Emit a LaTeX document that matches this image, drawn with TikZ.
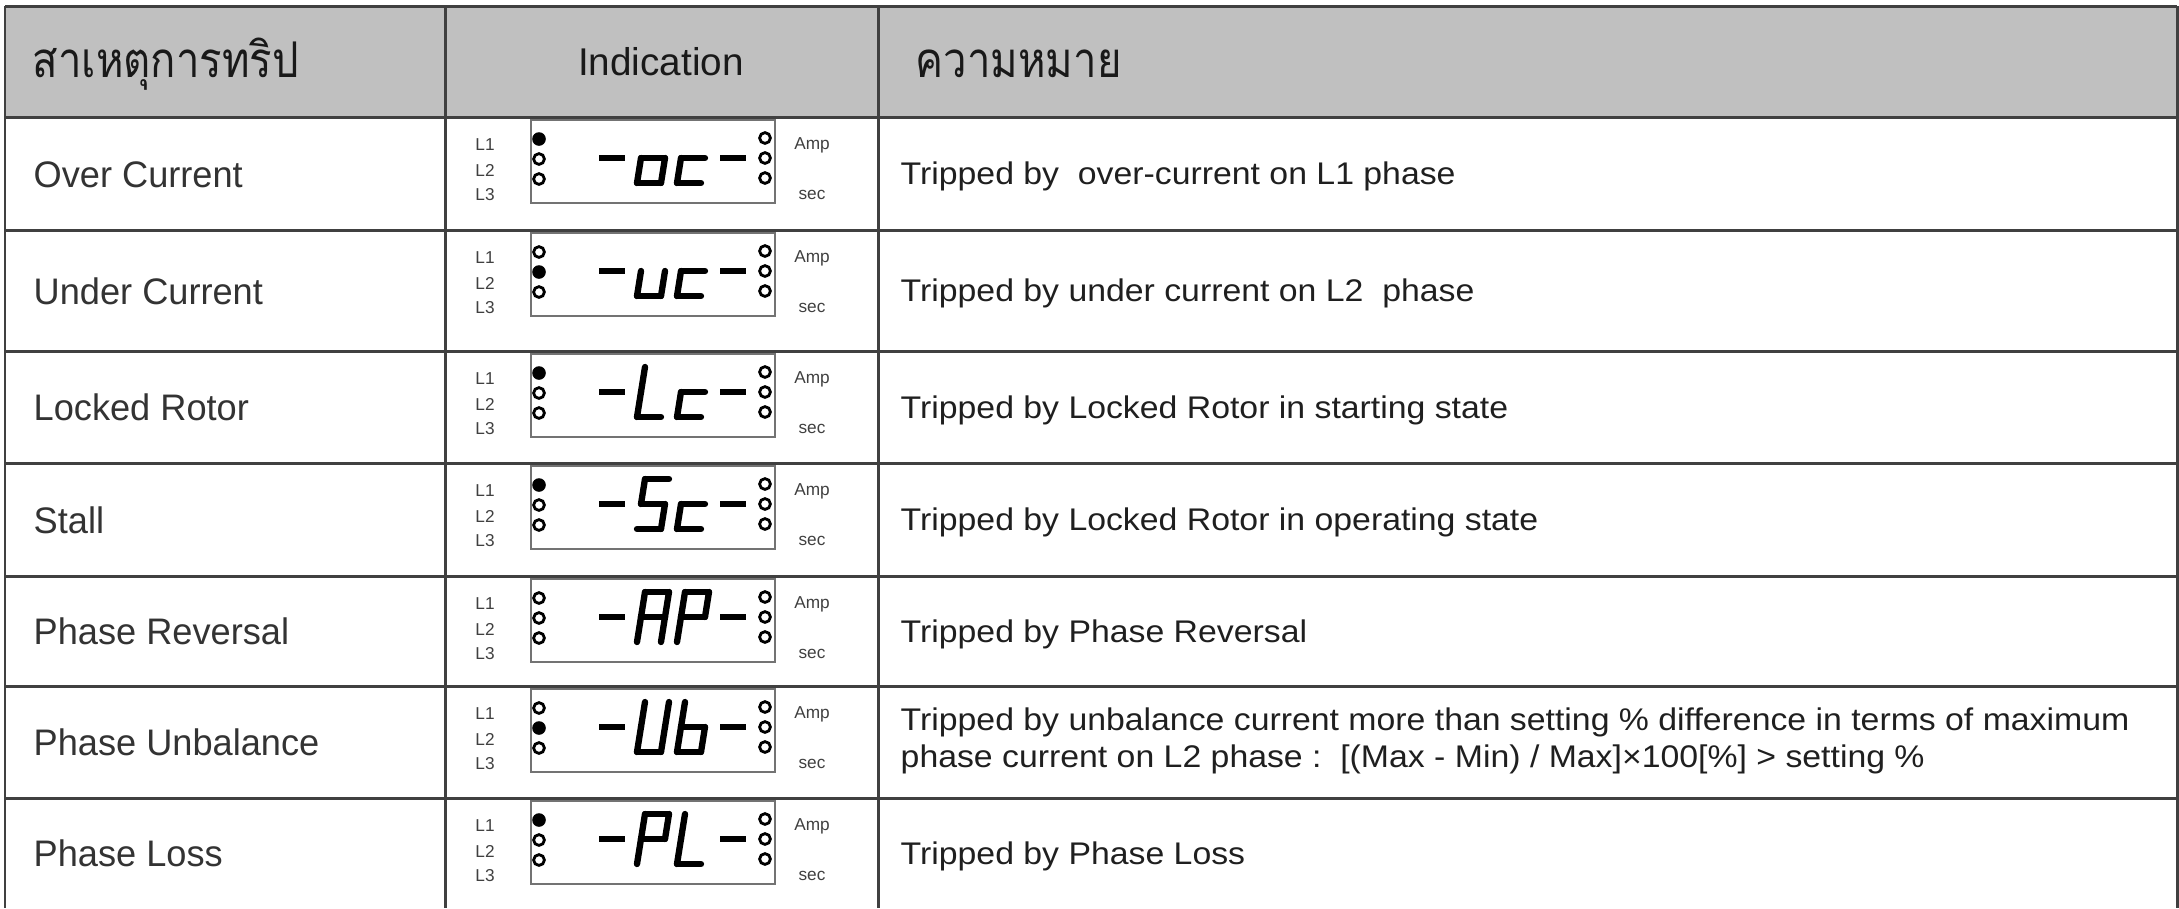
\documentclass[tikz,border=0pt]{standalone}
\usepackage{fontspec}
\setmainfont{Liberation Sans}
\newfontfamily\causefont[FakeStretch=0.98]{Liberation Sans}
\newfontfamily\descfont[FakeStretch=1.08]{Liberation Sans}
\newfontfamily\thaifont[Script=Thai,FakeStretch=0.85]{Loma}
\definecolor{hdrgray}{RGB}{192,192,192}
\newcommand\zsega{\draw[seg] (0,-50) -- (24,-50);}
\newcommand\zsegb{\draw[seg] (24,-50) -- (24,-25);}
\newcommand\zsegc{\draw[seg] (24,-25) -- (24,0);}
\newcommand\zsegd{\draw[seg] (0,0) -- (24,0);}
\newcommand\zsege{\draw[seg] (0,0) -- (0,-25);}
\newcommand\zsegf{\draw[seg] (0,-25) -- (0,-50);}
\newcommand\zsegg{\draw[seg] (0,-25) -- (24,-25);}
\newcommand\lcdglyph[2]{\begin{scope}[shift={(#1,66)},xslant=0.16]
  \foreach \s in {#2}{\csname zseg\s\endcsname}\end{scope}}
\newcommand\lcdrow[5]{%
\begin{scope}[shift={(0,#2)}]
  \draw[lcdbox] (531,3) rectangle (775,86);
  \node[lbl] (#1L1) at (485,28) {L1};
  \node[lbl] (#1L2) at (485,53) {L2};
  \node[lbl] (#1L3) at (485,78) {L3};
  \node[lbl] (#1amp) at (812,28) {Amp};
  \node[lbl] (#1sec) at (812,78) {sec};
  \foreach \k/\yy in {1/22,2/42,3/62}{%
    \ifnum\k=#3\relax \fill[black] (539,\yy) circle[radius=6.8];%
    \else \draw[led] (539,\yy) circle[radius=5.4];\fi
    \draw[led] (765,\yy-1) circle[radius=5.4];}
  \draw[seg,line cap=butt] (599,41) -- (625,41);
  \draw[seg,line cap=butt] (720,41) -- (746,41);
  \lcdglyph{637}{#4}
  \lcdglyph{677}{#5}
\end{scope}}
\begin{document}
\begin{tikzpicture}[x=0.01cm,y=-0.01cm,
  grid/.style={draw=black!75, line width=0.85pt},
  seg/.style={line width=1.8pt, line cap=round, line join=round},
  lcdbox/.style={draw=black!55, line width=0.5pt},
  led/.style={draw=black, line width=0.8pt},
  lbl/.style={font=\fontsize{4.9}{5}\selectfont, text=black!75, inner sep=0pt},
  thaihdr/.style={anchor=base west, font=\thaifont\fontsize{14}{16}\selectfont, text=black!90, inner sep=0pt},
  enghdr/.style={anchor=base, font=\fontsize{11}{13}\selectfont, text=black!90, inner sep=0pt},
  cause/.style={anchor=base west, font=\causefont\fontsize{10.5}{12}\selectfont, text=black!80, inner sep=0pt},
  desc/.style={anchor=base west, font=\descfont\fontsize{8.9}{10}\selectfont, text=black!88, inner sep=0pt}]
\useasboundingbox (0,0) rectangle (2179,908);
% header
\fill[hdrgray] (5,6) rectangle (2177,117);
% grid
\draw[grid] (5,6) -- (2177,6);
\foreach \yy in {117,230,351,463,576,686,798}{\draw[grid] (5,\yy) -- (2177,\yy);}
\foreach \xx in {5,445,878,2177}{\draw[grid] (\xx,6) -- (\xx,908);}
% header texts
\node[thaihdr] (hcause) at (32,77) {สาเหตุการทริป};
\node[enghdr] (hind) at (661,75) {Indication};
\node[thaihdr] (hmean) at (915,77) {ความหมาย};
% causes
\node[cause] (c1) at (33,187) {Over Current};
\node[cause] (c2) at (33,304) {Under Current};
\node[cause] (c3) at (33,420.5) {Locked Rotor};
\node[cause] (c4) at (33,533) {Stall};
\node[cause] (c5) at (33,644.5) {Phase Reversal};
\node[cause] (c6) at (33,755.5) {Phase Unbalance};
\node[cause] (c7) at (33,866.5) {Phase Loss};
% descriptions
\node[desc] (d1) at (900,184.5) {Tripped by\ \ over-current on L1 phase};
\node[desc] (d2) at (900,301.5) {Tripped by under current on L2\ \ phase};
\node[desc] (d3) at (900,418) {Tripped by Locked Rotor in starting state};
\node[desc] (d4) at (900,530.5) {Tripped by Locked Rotor in operating state};
\node[desc] (d5) at (900,642) {Tripped by Phase Reversal};
\node[desc] (d6a) at (900,730) {Tripped by unbalance current more than setting \% difference in terms of maximum};
\node[desc] (d6b) at (900,767) {phase current on L2 phase :\ \ [(Max - Min) / Max]×100[\%] > setting \%};
\node[desc] (d7) at (900,864) {Tripped by Phase Loss};
% indications
\lcdrow{r1}{117}{1}{c,d,e,g}{d,e,g}
\lcdrow{r2}{230}{2}{c,d,e}{d,e,g}
\lcdrow{r3}{351}{1}{d,e,f}{d,e,g}
\lcdrow{r4}{463}{1}{a,f,g,c,d}{d,e,g}
\lcdrow{r5}{576}{0}{a,b,c,e,f,g}{a,b,e,f,g}
\lcdrow{r6}{686}{2}{b,c,d,e,f}{c,d,e,f,g}
\lcdrow{r7}{798}{1}{a,b,e,f,g}{d,e,f}
\end{tikzpicture}
\end{document}
